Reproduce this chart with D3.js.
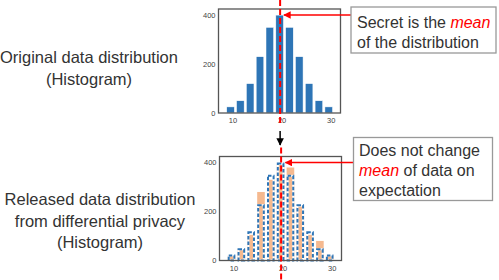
<!DOCTYPE html>
<html>
<head>
<meta charset="utf-8">
<script src="https://cdn.jsdelivr.net/npm/d3@7"></script>
<style>
  body { margin: 0; background: #fff; }
  svg { display: block; font-family: "Liberation Sans", Arial, sans-serif; }
</style>
</head>
<body>
<svg width="499" height="280"></svg>
<script>
// histogram bin centres and counts
var binCenters = [9.5, 11.5, 13.5, 15.5, 17.5, 19.5, 21.5, 23.5, 25.5, 27.5, 29.5];
var originalCounts = [25, 50, 120, 230, 350, 400, 350, 230, 120, 50, 25];
var noisyCounts = [20, 45, 105, 280, 330, 390, 380, 220, 105, 80, 20];
var meanValue = 19.6;
var xTicks = [10, 20, 30];
var yTicks = [0, 200, 400];

var svg = d3.select("svg");
var w = 122, h = 104;

var x = d3.scaleLinear().domain([7.05, 31.9]).range([0, w]);
var y = d3.scaleLinear().domain([0, 425]).range([h, 0]);
var barW = x(8.6) - x(7.05);

var defs = svg.append("defs");
function marker(id, color) {
  defs.append("marker")
    .attr("id", id).attr("viewBox", "0 0 10 10")
    .attr("refX", 9).attr("refY", 5)
    .attr("markerWidth", 5).attr("markerHeight", 5)
    .attr("orient", "auto-start-reverse")
    .append("path").attr("d", "M0,0L10,5L0,10z").attr("fill", color);
}
marker("redhead", "#ff0000");
marker("blackhead", "#000");

function drawFrame(g) {
  yTicks.forEach(function(t) {
    g.append("text").attr("x", -3).attr("y", y(t)).attr("dy", "0.35em")
      .attr("text-anchor", "end").attr("font-size", 7.5).attr("fill", "#444").text(t);
  });
  xTicks.forEach(function(t) {
    g.append("text").attr("x", x(t)).attr("y", h + 10)
      .attr("text-anchor", "middle").attr("font-size", 7.5).attr("fill", "#444").text(t);
  });
  g.append("rect").attr("width", w).attr("height", h)
    .attr("fill", "none").attr("stroke", "#555").attr("stroke-width", 1.3);
}

// top chart: original histogram
var g1 = svg.append("g").attr("transform", "translate(218.5,9)");
g1.selectAll(".bar").data(originalCounts).enter().append("rect")
  .attr("x", function(d, i) { return x(binCenters[i]) - barW / 2; })
  .attr("y", function(d) { return y(d); })
  .attr("width", barW)
  .attr("height", function(d) { return h - y(d); })
  .attr("fill", "#2e75b6").attr("stroke", "#fff").attr("stroke-width", 0.5);
drawFrame(g1);
g1.append("line")
  .attr("x1", x(meanValue)).attr("x2", x(meanValue))
  .attr("y1", -9).attr("y2", h + 13)
  .attr("stroke", "#ff0000").attr("stroke-width", 2).attr("stroke-dasharray", "6,3");

// bottom chart: released histogram
var g2 = svg.append("g").attr("transform", "translate(219.5,156.5)");
g2.selectAll(".noisy").data(noisyCounts).enter().append("rect")
  .attr("x", function(d, i) { return x(binCenters[i]) - barW / 2; })
  .attr("y", function(d) { return y(d); })
  .attr("width", barW)
  .attr("height", function(d) { return h - y(d); })
  .attr("fill", "#f4b183").attr("fill-opacity", 0.9);
[["#fff", null], ["#2e75b6", "3.5,2"]].forEach(function(st) {
  g2.selectAll(null).data(originalCounts).enter().append("rect")
    .attr("x", function(d, i) { return x(binCenters[i]) - barW / 2 + 1; })
    .attr("y", function(d) { return y(d) + 1; })
    .attr("width", barW - 2)
    .attr("height", function(d) { return h - y(d) - 1; })
    .attr("fill", "none").attr("stroke", st[0]).attr("stroke-width", 2)
    .attr("stroke-dasharray", st[1]);
});
drawFrame(g2);
g2.append("line")
  .attr("x1", x(meanValue)).attr("x2", x(meanValue))
  .attr("y1", -9).attr("y2", h + 20)
  .attr("stroke", "#ff0000").attr("stroke-width", 2).attr("stroke-dasharray", "6,3");

// black arrow between charts
svg.append("line")
  .attr("x1", 218.5 + x(meanValue)).attr("x2", 218.5 + x(meanValue))
  .attr("y1", 131).attr("y2", 145)
  .attr("stroke", "#000").attr("stroke-width", 1.5)
  .attr("marker-end", "url(#blackhead)");

// red pointer arrows
var peak = d3.max(originalCounts);
var peakIdx = originalCounts.indexOf(peak);
svg.append("line")
  .attr("x1", 351).attr("x2", 218.5 + x(binCenters[peakIdx]) + barW / 2 + 0.5)
  .attr("y1", 9 + y(peak)).attr("y2", 9 + y(peak))
  .attr("stroke", "#ff0000").attr("stroke-width", 1.5)
  .attr("marker-end", "url(#redhead)");
svg.append("line")
  .attr("x1", 353).attr("x2", 219.5 + x(binCenters[peakIdx]) + barW / 2 + 1)
  .attr("y1", 156.5 + y(peak)).attr("y2", 156.5 + y(peak))
  .attr("stroke", "#ff0000").attr("stroke-width", 1.5)
  .attr("marker-end", "url(#redhead)");

// annotation boxes
svg.append("rect").attr("x", 351).attr("y", 7).attr("width", 145).attr("height", 46)
  .attr("fill", "#fff").attr("stroke", "#999").attr("stroke-width", 1.3);
svg.append("rect").attr("x", 353.5).attr("y", 137.5).attr("width", 139).attr("height", 63)
  .attr("fill", "#fff").attr("stroke", "#999").attr("stroke-width", 1.3);

function boxLine(xp, yp, parts) {
  var t = svg.append("text").attr("x", xp).attr("y", yp)
    .attr("font-size", 16).attr("fill", "#333");
  parts.forEach(function(p) {
    var s = t.append("tspan").text(p[0]);
    if (p[1]) s.attr("fill", "#ff0000").attr("font-style", "italic");
  });
}
boxLine(357, 27.5, [["Secret is the "], ["mean", true]]);
boxLine(357, 47.5, [["of the distribution"]]);
boxLine(359, 156, [["Does not change"]]);
boxLine(359, 176, [["mean", true], [" of data on"]]);
boxLine(359, 196, [["expectation"]]);

// left descriptions
function leftLabel(cx, ys, lines) {
  lines.forEach(function(l, i) {
    svg.append("text").attr("x", cx).attr("y", ys[i])
      .attr("text-anchor", "middle").attr("font-size", 16.5).attr("fill", "#333").text(l);
  });
}
leftLabel(89, [63, 85], ["Original data distribution", "(Histogram)"]);
leftLabel(100, [205, 227, 248], ["Released data distribution", "from differential privacy", "(Histogram)"]);
</script>
</body>
</html>
